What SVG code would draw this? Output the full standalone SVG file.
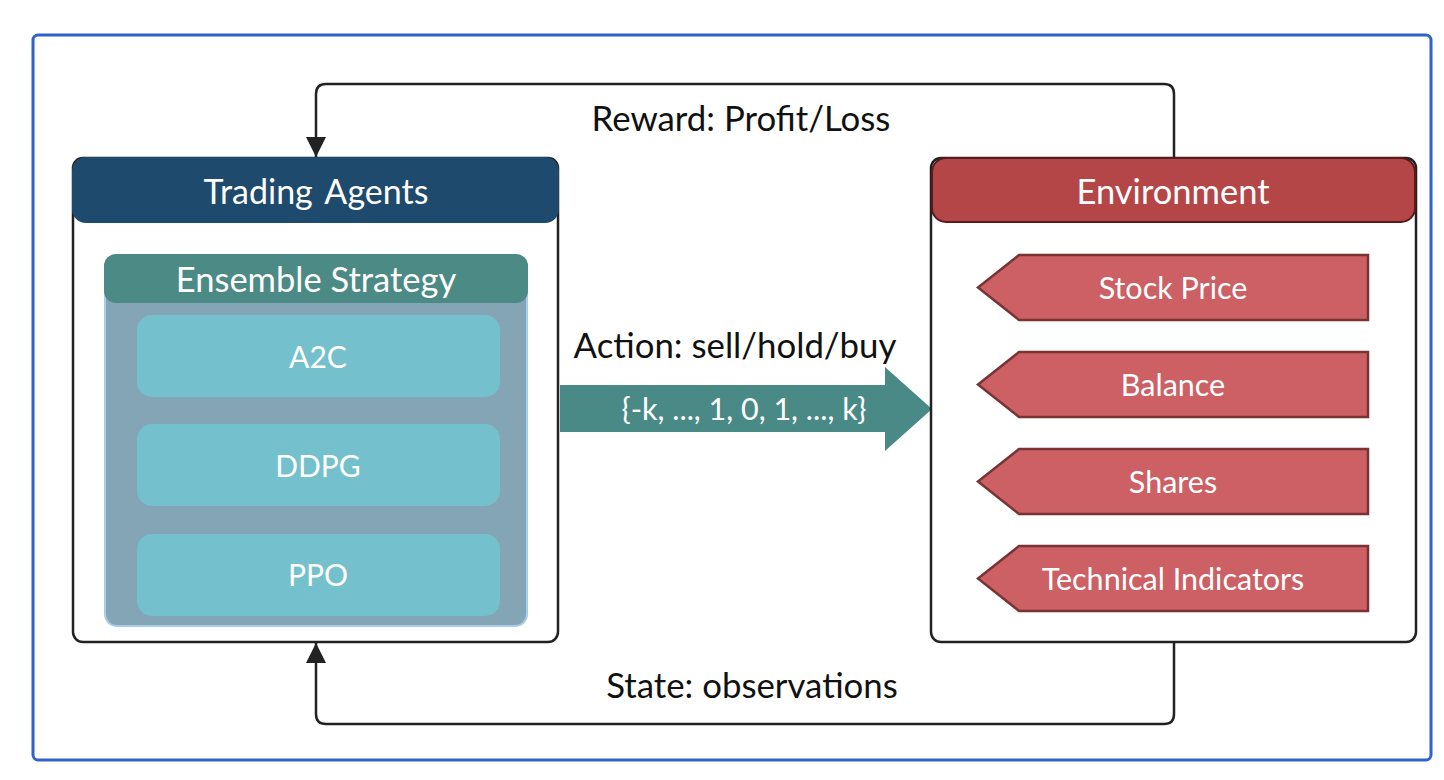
<svg xmlns="http://www.w3.org/2000/svg" width="1444" height="780" viewBox="0 0 1444 780">
<style>
text{font-family:Lato,"Open Sans","Liberation Sans",sans-serif}
.w{fill:#ffffff;text-anchor:middle}
.b{fill:#111111;text-anchor:middle;font-size:34.8px}
.algo{fill:#74c0cc}
.pent{fill:#cc6064;stroke:#7a3335;stroke-width:2.5}
.conn{fill:none;stroke:#222222;stroke-width:2.5}
</style>
<defs>
<marker id="ah2" viewBox="0 0 10 10" refX="10" refY="5" markerWidth="20" markerHeight="20" markerUnits="userSpaceOnUse" orient="auto">
<path d="M0,0 L10,5 L0,10 z" fill="#222222"/>
</marker>
</defs>
<rect width="1444" height="780" fill="#ffffff"/>
<rect x="33" y="35" width="1398" height="725" rx="5" fill="none" stroke="#2f63c8" stroke-width="3"/>

<g id="connectors">
<path class="conn" d="M1174,157 V94 Q1174,84 1164,84 H326 Q316,84 316,94 V157" marker-end="url(#ah2)"/>
<path class="conn" d="M1174,643 V714 Q1174,724 1164,724 H326 Q316,724 316,714 V643" marker-end="url(#ah2)"/>
<text class="b" x="741" y="131">Reward: Profit/Loss</text>
<text class="b" x="752" y="698">State: observations</text>
<g id="action">
<path d="M560,385 H885 V367 L932,409 L885,451 V432 H560 Z" fill="#4a8a86"/>
<text class="b" x="735" y="358">Action: sell/hold/buy</text>
<text class="w" x="744" y="420" font-size="30.5">{-k, ..., 1, 0, 1, ..., k}</text>
</g>
</g>

<g id="trading-agents">
<rect x="73" y="158" width="485" height="484" rx="10" fill="#ffffff" stroke="#222222" stroke-width="2.5"/>
<rect x="72" y="157" width="487" height="66" rx="14" fill="#1e4a6e"/>
<text class="w" x="316" y="204" font-size="34" word-spacing="4">Trading Agents</text>
</g>

<g id="ensemble">
<rect x="105" y="255" width="422" height="371" rx="12" fill="#84a5b5" stroke="#a8cde6" stroke-width="2"/>
<rect x="104" y="254" width="424" height="49" rx="12" fill="#4b8a85"/>
<text class="w" x="316" y="292" font-size="34.5">Ensemble Strategy</text>
</g>

<g id="a2c">
<rect class="algo" x="137" y="315" width="363" height="82" rx="15"/>
<text class="w" x="318" y="368" font-size="30">A2C</text>
</g>
<g id="ddpg">
<rect class="algo" x="137" y="424" width="363" height="82" rx="15"/>
<text class="w" x="318" y="477" font-size="30">DDPG</text>
</g>
<g id="ppo">
<rect class="algo" x="137" y="534" width="363" height="82" rx="15"/>
<text class="w" x="318" y="586" font-size="30">PPO</text>
</g>

<g id="environment">
<rect x="931" y="158" width="485" height="484" rx="10" fill="#ffffff" stroke="#222222" stroke-width="2.5"/>
<rect x="932" y="158" width="483" height="64" rx="14" fill="#b44648" stroke="#5a1a1c" stroke-width="2"/>
<text class="w" x="1173" y="204" font-size="34.5">Environment</text>
</g>

<g id="stock-price">
<path class="pent" d="M1019,255 H1368 V320 H1019 L978,287.5 Z"/>
<text class="w" x="1173" y="299" font-size="30.5">Stock Price</text>
</g>
<g id="balance">
<path class="pent" d="M1019,352 H1368 V417 H1019 L978,384.5 Z"/>
<text class="w" x="1173" y="396" font-size="30.5">Balance</text>
</g>
<g id="shares">
<path class="pent" d="M1019,449 H1368 V514 H1019 L978,481.5 Z"/>
<text class="w" x="1173" y="493" font-size="30.5">Shares</text>
</g>
<g id="technical-indicators">
<path class="pent" d="M1019,546 H1368 V611 H1019 L978,578.5 Z"/>
<text class="w" x="1173" y="590" font-size="30.5">Technical Indicators</text>
</g>
</svg>
